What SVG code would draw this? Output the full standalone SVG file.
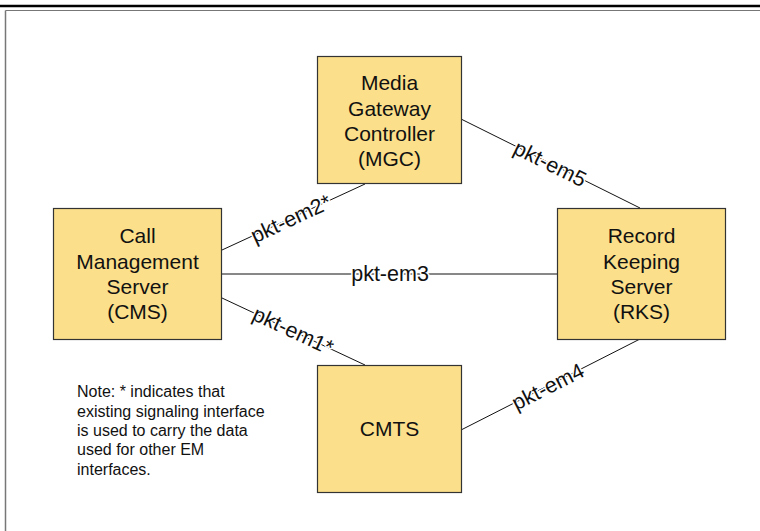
<svg xmlns="http://www.w3.org/2000/svg" width="760" height="531" viewBox="0 0 760 531">
<style>
.node rect{fill:#fbdf8a;stroke:#333;stroke-width:1.2}
.node text{font-family:"Liberation Sans",Arial,sans-serif;font-size:21px;fill:#111;text-anchor:middle}
.conn line{stroke:#111;stroke-width:1}
.lbl{font-family:"Liberation Sans",Arial,sans-serif;font-size:21.5px;fill:#111;text-anchor:middle;dominant-baseline:central;stroke:#fff;stroke-width:3px;paint-order:stroke;stroke-linejoin:round}
.note{font-family:"Liberation Sans",Arial,sans-serif;font-size:16px;fill:#111}
</style>
<rect width="760" height="531" fill="#fff"/>
<g id="frame">
<line x1="0" y1="6" x2="760" y2="6" stroke="#000" stroke-width="2.5"/>
<line x1="5.5" y1="10.5" x2="760" y2="10.5" stroke="#777" stroke-width="1.2"/>
<line x1="5.5" y1="10.5" x2="5.5" y2="531" stroke="#777" stroke-width="1.5"/>
</g>
<g class="conn" id="connectors">
<line x1="461" y1="119" x2="640" y2="208"/>
<line x1="222" y1="250" x2="365" y2="184"/>
<line x1="222" y1="274" x2="557" y2="274"/>
<line x1="222" y1="298" x2="365" y2="365"/>
<line x1="461" y1="430" x2="640" y2="339"/>
<text class="lbl" transform="translate(550,164) rotate(26.4)">pkt-em5</text>
<text class="lbl" transform="translate(291,219) rotate(-24.8)">pkt-em2*</text>
<text class="lbl" transform="translate(390,274)">pkt-em3</text>
<text class="lbl" transform="translate(293,331) rotate(25)">pkt-em1*</text>
<text class="lbl" transform="translate(548,387) rotate(-27)">pkt-em4</text>
</g>
<g class="node" id="mgc">
<rect x="317.5" y="56.5" width="144" height="127"/>
<text x="389.5" y="89.5">Media</text>
<text x="389.5" y="115.5">Gateway</text>
<text x="389.5" y="140.5">Controller</text>
<text x="389.5" y="165.5">(MGC)</text>
</g>
<g class="node" id="cms">
<rect x="53.5" y="208.5" width="168" height="131"/>
<text x="137.5" y="242.5">Call</text>
<text x="137.5" y="268.5">Management</text>
<text x="137.5" y="293.5">Server</text>
<text x="137.5" y="318.5">(CMS)</text>
</g>
<g class="node" id="rks">
<rect x="557.5" y="208.5" width="168" height="131"/>
<text x="641.5" y="242.5">Record</text>
<text x="641.5" y="268.5">Keeping</text>
<text x="641.5" y="293.5">Server</text>
<text x="641.5" y="318.5">(RKS)</text>
</g>
<g class="node" id="cmts">
<rect x="317.5" y="365.5" width="144" height="127"/>
<text x="389.5" y="435.5">CMTS</text>
</g>
<g id="note">
<text class="note" x="77" y="397">Note: * indicates that</text>
<text class="note" x="77" y="416.5">existing signaling interface</text>
<text class="note" x="77" y="436">is used to carry the data</text>
<text class="note" x="77" y="455">used for other EM</text>
<text class="note" x="77" y="474.5">interfaces.</text>
</g>
</svg>
